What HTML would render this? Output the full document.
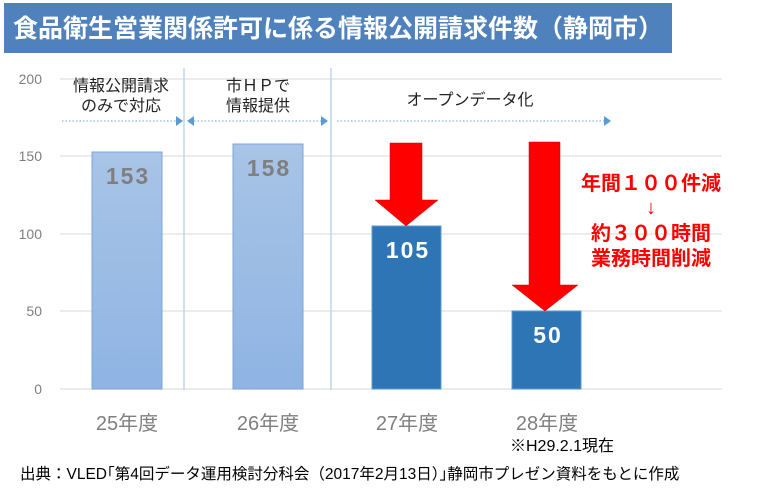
<!DOCTYPE html>
<html><head><meta charset="utf-8"><style>
body{margin:0;width:777px;height:495px;background:#fff;overflow:hidden;font-family:"Liberation Sans","Noto Sans CJK JP",sans-serif}
</style></head><body>
<svg width="777" height="495" xmlns="http://www.w3.org/2000/svg" font-family="Liberation Sans, Noto Sans CJK JP, sans-serif">
<rect x="4" y="3" width="668" height="50" fill="#4f81bd"/>
<text x="338" y="37" text-anchor="middle" font-size="25" font-weight="bold" fill="#fff">食品衛生営業関係許可に係る情報公開請求件数（静岡市）</text>
<g stroke="#e6e6e6" stroke-width="1.5">
<line x1="60" y1="79" x2="722" y2="79"/><line x1="60" y1="156" x2="722" y2="156"/>
<line x1="60" y1="234" x2="722" y2="234"/><line x1="60" y1="311" x2="722" y2="311"/>
<line x1="60" y1="389" x2="722" y2="389"/></g>
<g font-size="14" fill="#7f7f7f" text-anchor="end">
<text x="42" y="84">200</text><text x="42" y="161">150</text><text x="42" y="239">100</text><text x="42" y="316">50</text><text x="42" y="394">0</text></g>
<line x1="184" y1="68" x2="184" y2="390" stroke="#bdd7ee" stroke-width="1.5"/>
<line x1="331" y1="68" x2="331" y2="390" stroke="#bdd7ee" stroke-width="1.5"/>
<defs><linearGradient id="g" x1="0" y1="0" x2="0" y2="1"><stop offset="0" stop-color="#a8c4e6"/><stop offset="1" stop-color="#8fb4e3"/></linearGradient></defs>
<rect x="92" y="152" width="70" height="237" fill="url(#g)" stroke="#7ea6d8"/>
<rect x="233" y="144" width="70" height="245" fill="url(#g)" stroke="#7ea6d8"/>
<rect x="372" y="226" width="69" height="163" fill="#2e75b6" stroke="#5b9bd5"/>
<rect x="512" y="311" width="69" height="78" fill="#2e75b6" stroke="#5b9bd5"/>
<g font-size="23" font-weight="bold" text-anchor="middle" letter-spacing="2">
<text x="128" y="184" fill="#7f7f7f">153</text><text x="269" y="176" fill="#7f7f7f">158</text>
<text x="408" y="258" fill="#fff">105</text><text x="548" y="343" fill="#fff">50</text></g>
<polygon points="390,143 422,143 422,200 438,200 406,226 375,200 390,200" fill="#f00" stroke="#c00" stroke-width="0.5"/>
<polygon points="529,142 560,142 560,285 578,285 545,311 512,285 529,285" fill="#f00" stroke="#c00" stroke-width="0.5"/>
<g font-size="20" font-weight="bold" fill="#f00" text-anchor="middle">
<text x="651" y="190">年間１００件減</text><text x="651" y="214" font-weight="normal">↓</text>
<text x="651" y="240">約３００時間</text><text x="651" y="265">業務時間削減</text></g>
<g font-size="16" fill="#222" text-anchor="middle">
<text x="121" y="91">情報公開請求</text><text x="121" y="111">のみで対応</text>
<text x="258" y="91">市ＨＰで</text><text x="258" y="111">情報提供</text>
<text x="470" y="105">オープンデータ化</text></g>
<g stroke="#9dc3e6" stroke-width="1.5" stroke-dasharray="1.5,2">
<line x1="62" y1="121" x2="176" y2="121"/><line x1="194" y1="121" x2="321" y2="121"/><line x1="337" y1="121" x2="604" y2="121"/></g>
<g fill="#5b9bd5"><polygon points="176,116 183,121 176,126"/><polygon points="194,116 187,121 194,126"/><polygon points="321,116 328,121 321,126"/><polygon points="604,116 611,121 604,126"/></g>
<g font-size="20" fill="#7f7f7f" text-anchor="middle">
<text x="127" y="430">25年度</text><text x="268" y="430">26年度</text><text x="407" y="430">27年度</text><text x="547" y="430">28年度</text></g>
<text x="510" y="451" font-size="16" fill="#000">※H29.2.1現在</text>
<text x="20" y="479" font-size="15.5" fill="#000">出典：VLED｢第4回データ運用検討分科会（2017年2月13日）｣静岡市プレゼン資料をもとに作成</text>
</svg>
</body></html>
